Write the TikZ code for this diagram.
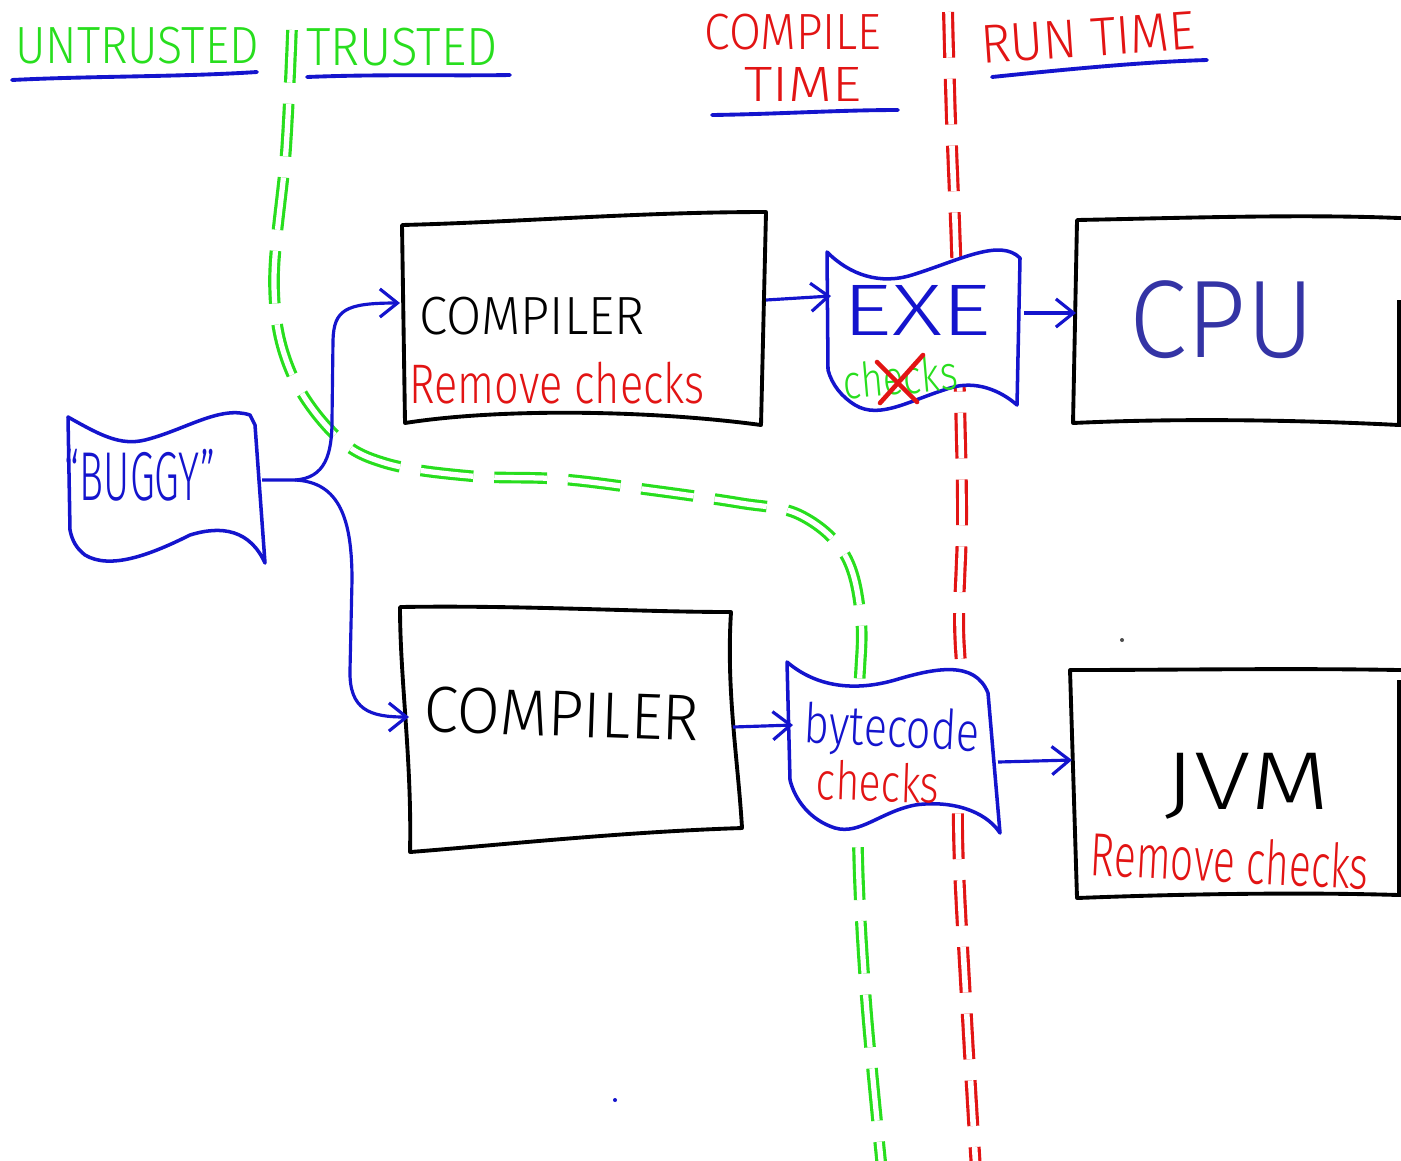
\documentclass[tikz,border=0pt]{standalone}
\usepackage{fontspec}
\setmainfont{Fira Sans}[UprightFont={* Light}]
\usetikzlibrary{arrows.meta}
\definecolor{hgreen}{RGB}{40,222,30}
\definecolor{hred}{RGB}{226,20,20}
\definecolor{hblue}{RGB}{20,20,205}
\definecolor{cpublue}{RGB}{52,52,165}
\newlength\pxu \setlength\pxu{0.28453pt}
\newcommand\hw[3]{\resizebox*{#1\pxu}{#2\pxu}{#3}}
\begin{document}
\begin{tikzpicture}[x=0.01cm,y=-0.01cm,
  lbl/.style={inner sep=0pt, outer sep=0pt},
  boxline/.style={draw=black, line width=1.1pt, line join=round, fill=white},
  flagline/.style={draw=hblue, line width=1pt, line join=round, fill=white},
  uline/.style={draw=hblue, line width=1.1pt, line cap=round},
  conn/.style={draw=hblue, line width=0.9pt, -{Straight Barb[length=5pt,width=8pt]}},
  sepgreen/.style={draw=hgreen, line width=0.9pt, double=white, double distance=1.5pt, dash pattern=on 15pt off 6pt},
  sepred/.style={draw=hred, line width=0.9pt, double=white, double distance=1.6pt, dash pattern=on 13pt off 6pt}
]
\useasboundingbox (0,0) rectangle (1401,1160);
\fill[white] (0,0) rectangle (1401,1160);

% separators
\draw[sepgreen] plot[smooth, tension=0.6] coordinates {(292,30) (286,150) (274,285) (290,370) (335,435) (385,463) (470,476) (560,479) (650,490) (740,503) (800,515) (845,555) (861,620) (859,700) (858,850) (866,1000) (882,1170)};
\draw[sepred] plot[smooth, tension=0.6] coordinates {(948,12) (951,120) (956,250) (960,400) (962,520) (959,620) (962,700) (958,830) (966,1000) (976,1170)};

% header underlines
\draw[uline] (12,80) .. controls (90,76) and (180,77) .. (257,72);
\draw[uline] (307,77) .. controls (380,74) and (450,76) .. (510,75);
\draw[uline] (712,115) .. controls (780,114) and (840,110) .. (898,110);
\draw[uline] (992,77) .. controls (1060,70) and (1140,62) .. (1207,60);

% headers
\node[lbl, text=hgreen] (untrusted) at (137,46) {\hw{243}{37}{UNTRUSTED}};
\node[lbl, text=hgreen] (trusted) at (402,47) {\hw{191}{38}{TRUSTED}};
\node[lbl, text=hred] (compile) at (793,32) {\hw{177}{36}{COMPILE}};
\node[lbl, text=hred] (ctime) at (803,84) {\hw{117}{34}{TIME}};
\node[lbl, text=hred, rotate=4] (runtime) at (1088,38) {\hw{215}{38}{RUN TIME}};

% boxes
\draw[boxline] (402,225) .. controls (520,222) and (640,212) .. (766,212) -- (761,425) .. controls (650,410) and (500,408) .. (405,423) -- cycle;
\draw[boxline] (400,607) .. controls (520,605) and (640,612) .. (731,612) .. controls (726,690) and (738,760) .. (742,828) .. controls (620,832) and (500,845) .. (410,852) .. controls (412,760) and (400,680) .. (400,607) -- cycle;
\draw[boxline] (1401,218) -- (1399,218) .. controls (1300,214) and (1180,218) .. (1077,220) -- (1073,423) .. controls (1180,418) and (1300,420) .. (1399,425) -- (1401,425);
\draw[black, line width=1.1pt] (1399,300) -- (1399,425);
\draw[boxline] (1401,670) -- (1399,670) .. controls (1290,668) and (1170,670) .. (1070,670) -- (1077,898) .. controls (1180,894) and (1300,892) .. (1399,895) -- (1401,895);
\draw[black, line width=1.1pt] (1399,680) -- (1399,895);

% flags
\draw[flagline] (68,417) .. controls (100,435) and (120,446) .. (145,440) .. controls (185,430) and (220,405) .. (250,415) -- (255,425) -- (265,563) .. controls (250,530) and (222,525) .. (190,535) .. controls (150,555) and (110,570) .. (85,555) .. controls (76,548) and (72,540) .. (70,530) -- cycle;
\draw[flagline] (827,252) .. controls (850,275) and (880,285) .. (912,275) .. controls (960,260) and (1000,238) .. (1020,258) -- (1017,405) .. controls (1000,390) and (975,380) .. (950,388) .. controls (910,400) and (880,420) .. (855,405) .. controls (842,397) and (832,385) .. (828,370) -- cycle;
\draw[flagline] (787,662) .. controls (820,690) and (860,690) .. (895,680) .. controls (935,668) and (975,660) .. (988,693) -- (1000,833) .. controls (985,810) and (950,800) .. (915,805) .. controls (880,812) and (860,835) .. (835,828) .. controls (810,820) and (795,800) .. (790,780) -- cycle;

% texts
\node[lbl, text=hblue] (buggy) at (140,475) {\hw{150}{52}{“BUGGY”}};
\node[lbl] (comp1) at (532,316) {\hw{225}{38}{COMPILER}};
\node[lbl, text=hred] (rm1) at (557,383) {\hw{295}{42}{Remove checks}};
\node[lbl, text=cpublue] (cpu) at (1222,320) {\hw{185}{78}{CPU}};
\node[lbl, text=hblue] (exe) at (917,310) {\hw{149}{50}{EXE}};
\node[lbl, text=hgreen, rotate=5] (exechecks) at (900,377) {\hw{115}{36}{checks}};
\draw[hred, line width=1.3pt, line cap=round] (877,362) -- (917,402) (923,355) -- (880,403);
\node[lbl, rotate=-2] (comp2) at (562,714) {\hw{275}{46}{COMPILER}};
\node[lbl, text=hblue, rotate=-3] (bytecode) at (892,732) {\hw{175}{52}{bytecode}};
\node[lbl, text=hred, rotate=-2] (bcchecks) at (878,782) {\hw{123}{40}{checks}};
\node[lbl] (jvm) at (1247,786) {\hw{165}{66}{JVM}};
\node[lbl, text=hred, rotate=-3] (rm2) at (1230,860) {\hw{278}{46}{Remove checks}};

% connector end points
\coordinate (b-out) at (262,480);
\coordinate (fork) at (295,480);
\coordinate (c1-in) at (400,303);
\coordinate (c2-in) at (409,717);
\coordinate (c1-out) at (766,300);
\coordinate (exe-in) at (831,296);
\coordinate (exe-out) at (1024,313);
\coordinate (cpu-in) at (1076,313);
\coordinate (c2-out) at (733,727);
\coordinate (bc-in) at (793,725);
\coordinate (bc-out) at (998,762);
\coordinate (jvm-in) at (1072,760);

% connectors
\draw[conn] (b-out) -- (fork) .. controls (325,478) and (332,455) .. (332,420) -- (333,340) .. controls (334,310) and (345,303) .. (c1-in);
\draw[conn] (fork) .. controls (340,482) and (352,520) .. (352,580) -- (350,670) .. controls (349,710) and (370,717) .. (c2-in);
\draw[conn] (c1-out) -- (exe-in);
\draw[conn] (exe-out) -- (cpu-in);
\draw[conn] (c2-out) -- (bc-in);
\draw[conn] (bc-out) -- (jvm-in);

% specks
\fill[black!70] (1122,640) circle (2);
\fill[hblue] (615,1100) circle (2);
\end{tikzpicture}
\end{document}
